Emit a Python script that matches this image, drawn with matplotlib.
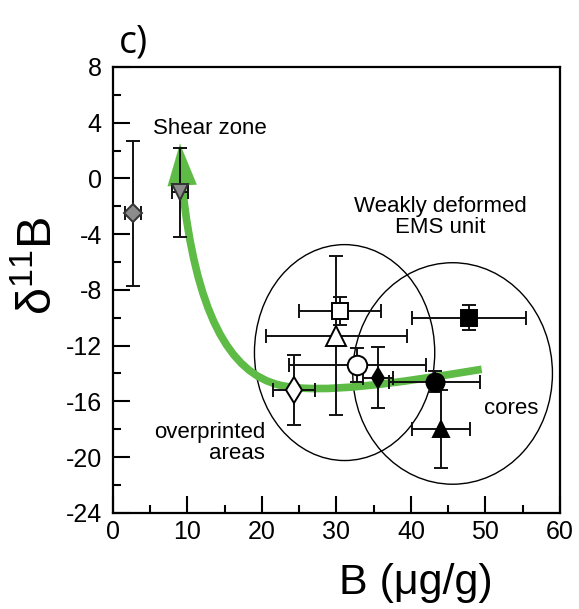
import matplotlib
matplotlib.use("Agg")
import matplotlib.pyplot as plt
from matplotlib.patches import Ellipse, PathPatch
from matplotlib.path import Path
from matplotlib.ticker import MultipleLocator

plt.rcParams['font.family'] = ['Liberation Sans', 'DejaVu Sans']
plt.rcParams['mathtext.fontset'] = 'custom'
plt.rcParams['mathtext.rm'] = 'Liberation Sans'
plt.rcParams['mathtext.it'] = 'Liberation Sans'
plt.rcParams['axes.unicode_minus'] = False

# ---- data ----
x_vals = [2.7, 9.0, 30.5, 30.0, 32.8, 24.3, 35.6, 47.8, 43.2, 44.0]
y_vals = [-2.5, -1.0, -9.5, -11.3, -13.4, -15.2, -14.3, -10.0, -14.6, -18.0]
x_err = [1.1, 1.1, 5.5, 9.5, 9.2, 2.8, 2.0, 7.6, 6.1, 3.9]
y_err = [5.2, 3.2, 1.0, 5.7, 1.2, 2.5, 2.2, 0.9, 0.75, 2.8]

# trend curve: arrow tip, then Bezier anchor/control points (x, y)
arrow_tip = (9.0, 2.5)
curve_x = [9.3, 11.1, 15.5, 22.5, 28.0, 38.0, 49.5]
curve_y = [-0.5, -9.5, -14.0, -14.85, -15.5, -14.7, -13.7]

# group ellipses: centre x, centre y, width, height
ell_cx = [31.1, 45.6]
ell_cy = [-12.5, -14.0]
ell_w = [24.2, 26.8]
ell_h = [15.5, 15.9]

x_ticks = [0, 10, 20, 30, 40, 50, 60]
y_ticks = [8, 4, 0, -4, -8, -12, -16, -20, -24]

# ---- styles ----
markers = ['D', 'v', 's', '^', 'o', 'd', 'd', 's', 'o', '^']
msizes = [9, 11, 11, 14, 14, 13, 10, 11, 13, 11]
faces = ['#8c8c8c', '#8c8c8c', 'white', 'white', 'white', 'white', 'black', 'black', 'black', 'black']
edges = ['#333333', '#333333', 'black', 'black', 'black', 'black', 'black', 'black', 'black', 'black']
green = '#5dbb46'

fig = plt.figure(figsize=(5.79, 6.09), dpi=100)
ax = fig.add_axes([0.195, 0.158, 0.772, 0.732])

# curve (cubic Bezier segments) and arrow head
codes = [Path.MOVETO] + [Path.CURVE4] * (len(curve_x) - 1)
path = Path(list(zip(curve_x, curve_y)), codes)
ax.add_patch(PathPatch(path, fill=False, edgecolor=green, lw=5.5, capstyle='butt', zorder=2))
ax.annotate('', xy=arrow_tip, xytext=(curve_x[0], curve_y[0]),
            arrowprops=dict(arrowstyle='-|>,head_length=3.0,head_width=1.05',
                            color=green, lw=0.1, shrinkA=0, shrinkB=0), zorder=2)

# ellipses
for cx, cy, w, h in zip(ell_cx, ell_cy, ell_w, ell_h):
    ax.add_patch(Ellipse((cx, cy), w, h, fill=False, edgecolor='black', lw=1.0, zorder=1))

# data points
for i in range(len(x_vals)):
    ax.errorbar(x_vals[i], y_vals[i], xerr=x_err[i], yerr=y_err[i], fmt=markers[i],
                ms=msizes[i], mfc=faces[i], mec=edges[i], mew=1.4,
                ecolor='#111111', elinewidth=1.4, capsize=5, capthick=1.4, zorder=3)

ax.set_xlim(0, 60)
ax.set_ylim(-24, 8)
ax.set_xticks(x_ticks)
ax.set_yticks(y_ticks)
ax.xaxis.set_minor_locator(MultipleLocator(5))
ax.yaxis.set_minor_locator(MultipleLocator(2))
ax.tick_params(which='both', direction='in', top=False, right=False, width=1.5, labelsize=18)
ax.tick_params(axis='x', which='major', length=12, pad=5)
ax.tick_params(axis='y', which='major', length=12, pad=8)
ax.tick_params(which='minor', length=6)
for s in ax.spines.values():
    s.set_linewidth(1.6)

ax.set_xlabel('B (μg/g)', fontsize=31)
ax.xaxis.set_label_coords(0.678, -0.112)
ax.set_ylabel('δ$^{11}$B', fontsize=35)
ax.yaxis.set_label_coords(-0.115, 0.555)

ax.text(13.0, 3.6, 'Shear zone', fontsize=16, ha='center', va='center')
ax.text(44.0, -2.8, 'Weakly deformed\nEMS unit', fontsize=16, ha='center', va='center',
        linespacing=1.0)
ax.text(20.4, -19.0, 'overprinted\nareas', fontsize=16, ha='right', va='center',
        multialignment='right', linespacing=1.0)
ax.text(53.4, -16.5, 'cores', fontsize=16, ha='center', va='center')

fig.text(0.231, 0.93, 'c)', fontsize=27, ha='center', va='center', family='Open Sans')

fig.savefig('out.png', dpi=100)
